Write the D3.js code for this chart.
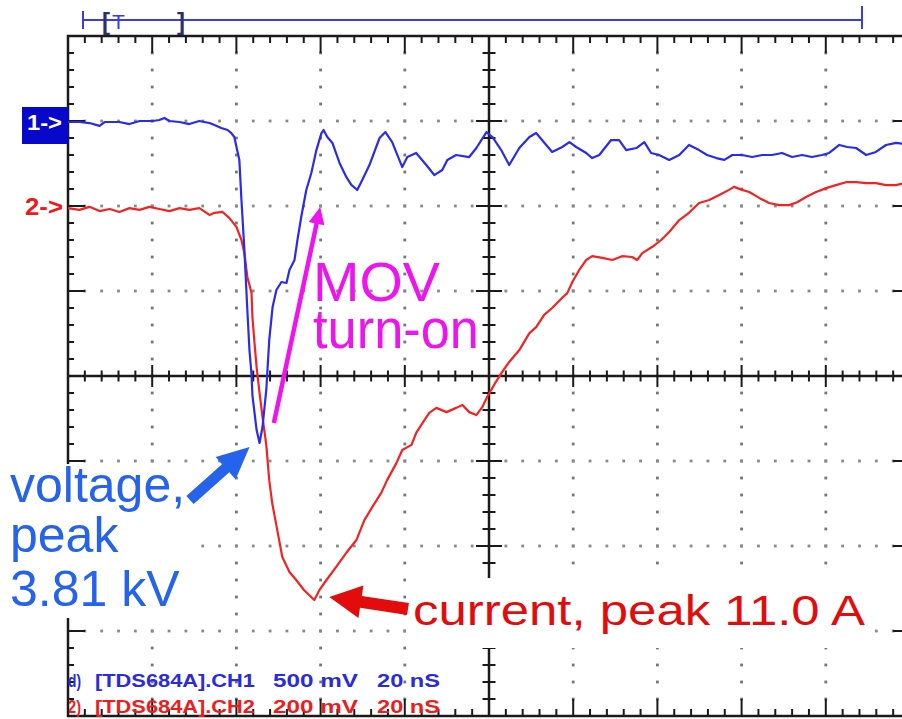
<!DOCTYPE html>
<html><head><meta charset="utf-8">
<script src="https://cdn.jsdelivr.net/npm/d3@7"></script>
<style>html,body{margin:0;padding:0;background:#fff;}svg{display:block;}</style>
</head><body>
<svg id="chart" width="902" height="719"></svg>
<script>
// ---- data (time in ns, channel values in mV as displayed on the scope) ----
const ch1Points = [[0,-6],[2.7,-6],[5.1,-12],[7.5,-29],[8.7,-6],[12.2,-6],[14.6,-18],[17.0,0],[20.1,0],[21.7,6],[22.9,18],[24.1,0],[26.5,-6],[28.8,-18],[31.2,0],[33.6,-12],[34.8,-24],[36.4,-41],[37.9,-53],[38.8,-71],[39.5,-94],[40.7,-229],[41.2,-465],[41.9,-759],[42.6,-1112],[43.1,-1347],[43.6,-1494],[43.8,-1612],[44.8,-1818],[45.5,-1894],[46.2,-1800],[47.1,-1582],[47.8,-1288],[48.6,-1094],[49.5,-994],[50.7,-947],[51.9,-953],[52.6,-876],[53.8,-818],[54.5,-700],[55.4,-565],[56.6,-406],[57.8,-306],[59.0,-171],[60.2,-71],[60.7,-53],[61.6,-94],[62.8,-129],[64.5,-247],[66.1,-329],[67.3,-376],[68.7,-406],[69.9,-347],[71.6,-259],[74.0,-100],[75.4,-65],[77.0,-124],[78.7,-229],[79.4,-271],[80.6,-212],[82.7,-188],[85.1,-259],[87.0,-318],[88.9,-288],[90.1,-229],[92.2,-200],[95.3,-212],[97.0,-159],[99.4,-65],[100.8,-94],[102.9,-171],[104.8,-259],[107.2,-159],[109.6,-94],[111.2,-71],[113.6,-141],[115.0,-182],[117.4,-153],[119.1,-124],[120.7,-153],[123.1,-188],[124.5,-218],[126.2,-200],[129.0,-112],[130.9,-112],[132.6,-171],[135.0,-159],[136.9,-124],[138.5,-188],[140.4,-200],[142.8,-229],[145.2,-200],[147.5,-141],[149.9,-171],[151.8,-200],[154.0,-218],[155.9,-229],[157.8,-200],[160.1,-200],[162.5,-212],[164.9,-200],[167.2,-200],[169.6,-188],[172.0,-212],[174.4,-200],[176.7,-212],[179.1,-200],[180.8,-188],[183.2,-141],[185.1,-153],[187.2,-159],[189.6,-200],[191.9,-182],[194.3,-141],[196.7,-129],[198.6,-135]];
const ch2Points = [[0,-5],[2.7,-9],[5.1,-2],[7.5,-12],[9.9,-7],[12.2,-14],[14.6,-5],[17.0,-9],[19.3,-2],[21.7,-7],[24.1,-12],[26.5,-5],[28.8,-9],[31.2,-5],[33.6,-21],[34.8,-16],[36.7,-14],[38.3,-28],[40.0,-49],[41.2,-80],[41.9,-111],[42.6,-167],[43.6,-205],[43.8,-261],[44.3,-322],[44.8,-379],[45.5,-440],[46.2,-496],[47.1,-562],[47.8,-645],[48.5,-699],[49.7,-762],[50.9,-826],[52.6,-861],[54.2,-880],[56.1,-904],[58.5,-927],[59.7,-904],[61.4,-880],[63.7,-849],[66.1,-816],[68.5,-786],[70.4,-739],[72.3,-708],[74.4,-675],[75.8,-645],[78.0,-605],[79.4,-574],[81.6,-562],[82.7,-534],[84.2,-511],[85.8,-487],[87.5,-475],[89.9,-485],[92.2,-475],[93.7,-468],[95.3,-485],[97.0,-492],[98.4,-473],[99.6,-449],[101.2,-421],[103.1,-391],[104.8,-367],[107.2,-339],[109.6,-299],[111.2,-285],[113.1,-256],[115.0,-240],[117.4,-216],[118.6,-205],[119.8,-179],[121.4,-151],[123.1,-127],[124.5,-118],[126.9,-122],[129.3,-127],[131.6,-118],[134.0,-120],[135.2,-127],[136.4,-111],[138.8,-96],[140.9,-80],[142.8,-61],[145.2,-33],[147.5,-16],[149.9,7],[152.3,14],[154.7,26],[157.0,38],[158.2,45],[160.1,38],[161.8,33],[164.2,19],[166.5,7],[168.9,2],[171.3,2],[173.2,9],[175.3,21],[177.7,33],[180.1,42],[182.4,49],[184.8,56],[187.2,56],[189.6,54],[191.9,54],[194.3,49],[196.7,49],[198.6,54]];

const timeDomainNs = [0, 200];          // 10 div x 20 ns
const ch1DomainMv = [-3500, 500];       // 8 div x 500 mV, ref marker at 0
const ch2DomainMv = [-1200, 400];       // 8 div x 200 mV, ref marker at 0
const channelMarkers = ["1->", "2->"];
const readoutCh1 = ["d)", "[TDS684A].CH1", "500 mV", "20 nS"];
const readoutCh2 = ["2)", "[TDS684A].CH2", "200 mV", "20 nS"];
const voltageLabel = ["voltage,", "peak", "3.81 kV"];
const movLabel = ["MOV", "turn-on"];
const currentLabel = "current, peak 11.0 A";
// MOV arrow: from / to in (ns, CH1 mV)
const movArrow = [[48.9, -1776], [59.9, -506]];

// ---- layout ----
const L = 68, R = 910, T = 36, B = 716;
const svg = d3.select("#chart");
const x = d3.scaleLinear().domain(timeDomainNs).range([L, R]);
const y1 = d3.scaleLinear().domain(ch1DomainMv).range([B, T]);
const y2 = d3.scaleLinear().domain(ch2DomainMv).range([B, T]);
const gx = d3.scaleLinear().domain([0, 50]).range([L, R]);   // minor steps horizontally
const gy = d3.scaleLinear().domain([0, 40]).range([T, B]);   // minor steps vertically
const font = "'Liberation Sans', Arial, sans-serif";

const grid = svg.append("g");
// dotted graticule
for (let i = 1; i < 10; i++) {
  if (i === 5) continue;
  for (let k = 1; k < 40; k++) grid.append("rect").attr("x", gx(i*5)-1.4).attr("y", gy(k)-1.4).attr("width",2.8).attr("height",2.8).attr("fill","#777");
}
for (let j = 1; j < 8; j++) {
  if (j === 4) continue;
  for (let k = 1; k < 50; k++) grid.append("rect").attr("x", gx(k)-1.4).attr("y", gy(j*5)-1.4).attr("width",2.8).attr("height",2.8).attr("fill","#8a8a8a");
}
const ax = "#1a1a1a";
// border
grid.append("rect").attr("x",L).attr("y",T).attr("width",R-L).attr("height",B-T).attr("fill","none").attr("stroke",ax).attr("stroke-width",2.5);
// border ticks
for (let k = 1; k < 50; k++) {
  const len = k % 5 === 0 ? 17 : 7;
  grid.append("line").attr("x1",gx(k)).attr("x2",gx(k)).attr("y1",T).attr("y2",T+len).attr("stroke",ax).attr("stroke-width",2);
  grid.append("line").attr("x1",gx(k)).attr("x2",gx(k)).attr("y1",B).attr("y2",B-len).attr("stroke",ax).attr("stroke-width",2);
}
for (let k = 1; k < 40; k++) {
  const len = k % 5 === 0 ? 17 : 6;
  grid.append("line").attr("y1",gy(k)).attr("y2",gy(k)).attr("x1",L).attr("x2",L+len).attr("stroke",ax).attr("stroke-width",2);
  grid.append("line").attr("y1",gy(k)).attr("y2",gy(k)).attr("x1",R).attr("x2",R-len).attr("stroke",ax).attr("stroke-width",2);
}
// centre axes
const cx = gx(25), cy = gy(20);
grid.append("line").attr("x1",L).attr("x2",R).attr("y1",cy).attr("y2",cy).attr("stroke",ax).attr("stroke-width",2.5);
grid.append("line").attr("x1",cx).attr("x2",cx).attr("y1",T).attr("y2",B).attr("stroke",ax).attr("stroke-width",2.5);
for (let k = 1; k < 50; k++) {
  const h = k % 5 === 0 ? 11 : 5.5;
  grid.append("line").attr("x1",gx(k)).attr("x2",gx(k)).attr("y1",cy-h).attr("y2",cy+h).attr("stroke",ax).attr("stroke-width",2);
}
for (let k = 1; k < 40; k++) {
  const h = k % 5 === 0 ? 13 : 6.5;
  grid.append("line").attr("y1",gy(k)).attr("y2",gy(k)).attr("x1",cx-h).attr("x2",cx+h).attr("stroke",ax).attr("stroke-width",2);
}

// top record ruler
const rulerC = "#3a3af0";
svg.append("line").attr("x1",83).attr("x2",862).attr("y1",20).attr("y2",20).attr("stroke",rulerC).attr("stroke-width",2);
svg.append("line").attr("x1",83).attr("x2",83).attr("y1",11).attr("y2",29).attr("stroke",rulerC).attr("stroke-width",2);
svg.append("line").attr("x1",862).attr("x2",862).attr("y1",6).attr("y2",29).attr("stroke",rulerC).attr("stroke-width",2);
svg.append("text").attr("x",102).attr("y",30).attr("font-family",font).attr("font-weight","bold").attr("font-size",24).attr("fill","#303060").text("[");
svg.append("text").attr("x",112).attr("y",29).attr("font-family",font).attr("font-size",21).attr("fill",rulerC).text("T");
svg.append("text").attr("x",177).attr("y",30).attr("font-family",font).attr("font-weight","bold").attr("font-size",24).attr("fill","#303060").text("]");

// traces
const line1 = d3.line().x(d => x(d[0])).y(d => y1(d[1]));
const line2 = d3.line().x(d => x(d[0])).y(d => y2(d[1]));
svg.append("path").datum(ch2Points).attr("d", line2).attr("fill","none").attr("stroke","#f52222").attr("stroke-width",2.2).attr("stroke-linejoin","round");
svg.append("path").datum(ch1Points).attr("d", line1).attr("fill","none").attr("stroke","#2a2af0").attr("stroke-width",2.2).attr("stroke-linejoin","round");

// channel markers
svg.append("rect").attr("x",22).attr("y",y1(0)-14).attr("width",46).attr("height",37).attr("fill","#0808cc");
svg.append("text").attr("x",27).attr("y",y1(0)+9).attr("font-family",font).attr("font-weight","bold").attr("font-size",22).attr("fill","#fff").attr("textLength",35).attr("lengthAdjust","spacingAndGlyphs").text(channelMarkers[0]);
svg.append("text").attr("x",25).attr("y",y2(0)+9).attr("font-family",font).attr("font-weight","bold").attr("font-size",23).attr("fill","#f01818").attr("textLength",38).attr("lengthAdjust","spacingAndGlyphs").text(channelMarkers[1]);

// readouts (separate text pieces so they do not collide)
const readoutSlots = [[68,13],[95,160],[273,85],[377,63]];
function readout(parts, yb, color) {
  parts.forEach((p,i) => svg.append("text").attr("x",readoutSlots[i][0]).attr("y",yb)
    .attr("font-family",font).attr("font-weight","bold").attr("font-size",19).attr("fill",color)
    .attr("textLength",readoutSlots[i][1]).attr("lengthAdjust","spacingAndGlyphs").text(p));
}
readout(readoutCh1, 687, "#2a2ae0");
readout(readoutCh2, 713, "#ee1c1c");

// arrow helper
function arrow(x0,y0,x1,y1_,shaft,hl,hw,color){
  const dx=x1-x0, dy=y1_-y0, len=Math.hypot(dx,dy), ux=dx/len, uy=dy/len, px=-uy, py=ux;
  const bx=x1-ux*hl, by=y1_-uy*hl;
  const pts=[[x0+px*shaft/2,y0+py*shaft/2],[bx+px*shaft/2,by+py*shaft/2],[bx+px*hw/2,by+py*hw/2],[x1,y1_],[bx-px*hw/2,by-py*hw/2],[bx-px*shaft/2,by-py*shaft/2],[x0-px*shaft/2,y0-py*shaft/2]];
  svg.append("polygon").attr("points",pts.map(p=>p.join(",")).join(" ")).attr("fill",color);
}

// voltage annotation (one text block, three lines)
const vC = "#2563ec";
svg.append("rect").attr("x",0).attr("y",464).attr("width",196).attr("height",154).attr("fill","#fff");
const vt = svg.append("text").attr("font-family",font).attr("font-size",50).attr("fill",vC);
voltageLabel.forEach((s,i) => vt.append("tspan").attr("x",10).attr("y",[502,552,606][i]).text(s));
const vMin = ch1Points.reduce((a,b)=> b[1]<a[1]?b:a);
arrow(190,500, x(vMin[0])-10, y1(vMin[1])+4, 11, 32, 30, vC);

// MOV annotation (one text block, two lines)
const mC = "#ee14ee";
const mt = svg.append("text").attr("font-family",font).attr("font-size",55).attr("fill",mC);
mt.append("tspan").attr("x",313).attr("y",301).attr("textLength",127).attr("lengthAdjust","spacingAndGlyphs").text(movLabel[0]);
mt.append("tspan").attr("x",313).attr("y",348).attr("textLength",166).attr("lengthAdjust","spacingAndGlyphs").text(movLabel[1]);
arrow(x(movArrow[0][0]), y1(movArrow[0][1]), x(movArrow[1][0]), y1(movArrow[1][1]), 4.5, 17, 16, mC);

// current annotation
const cC = "#e20c0c";
svg.append("rect").attr("x",406).attr("y",578).attr("width",466).attr("height",70).attr("fill","#fff");
svg.append("text").attr("x",413).attr("y",625).attr("font-family",font).attr("font-size",43).attr("fill",cC).attr("textLength",452).attr("lengthAdjust","spacingAndGlyphs").text(currentLabel);
const cMin = ch2Points.reduce((a,b)=> b[1]<a[1]?b:a);
arrow(408,609, x(cMin[0])+15, y2(cMin[1])-3, 12, 32, 33, cC);
</script>
</body></html>
